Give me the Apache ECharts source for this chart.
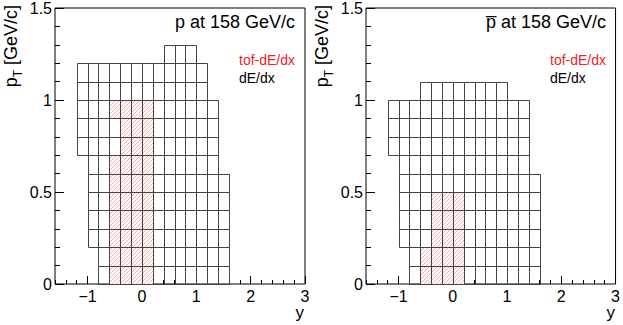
<!DOCTYPE html>
<html>
<head>
<meta charset="utf-8">
<script src="https://cdn.jsdelivr.net/npm/echarts@6/dist/echarts.min.js"></script>
<style>
  html, body { margin: 0; padding: 0; background: #fff; }
  #chart { width: 623px; height: 325px; }
</style>
</head>
<body>
<div id="chart"></div>
<script>
// acceptance bins: each row is [pT low edge, y from, y to], bins are 0.2 in y and 0.1 in pT
const binW = 0.2;
const binH = 0.1;

const pDedxRows = [
  [0.0, -0.8, 1.6], [0.1, -0.8, 1.6],
  [0.2, -1.0, 1.6], [0.3, -1.0, 1.6], [0.4, -1.0, 1.6], [0.5, -1.0, 1.6],
  [0.6, -1.0, 1.4],
  [0.7, -1.2, 1.4], [0.8, -1.2, 1.4], [0.9, -1.2, 1.4],
  [1.0, -1.2, 1.2], [1.1, -1.2, 1.2],
  [1.2, 0.4, 1.0]
];
const pTofRows = [
  [0.0, -0.6, 0.2], [0.1, -0.6, 0.2], [0.2, -0.6, 0.2], [0.3, -0.6, 0.2],
  [0.4, -0.6, 0.2], [0.5, -0.6, 0.2], [0.6, -0.6, 0.2],
  [0.7, -0.4, 0.2], [0.8, -0.4, 0.2],
  [0.9, -0.6, 0.2]
];
const pbarDedxRows = [
  [0.0, -0.8, 1.6], [0.1, -0.8, 1.6],
  [0.2, -1.0, 1.6], [0.3, -1.0, 1.6], [0.4, -1.0, 1.6], [0.5, -1.0, 1.6],
  [0.6, -1.0, 1.4],
  [0.7, -1.2, 1.4], [0.8, -1.2, 1.4], [0.9, -1.2, 1.4],
  [1.0, -0.6, 1.0]
];
const pbarTofRows = [
  [0.0, -0.6, 0.2], [0.1, -0.6, 0.2],
  [0.2, -0.4, 0.2], [0.3, -0.4, 0.2], [0.4, -0.4, 0.2]
];

const xMajor = [-1, 0, 1, 2, 3];
const yMajor = [0, 0.5, 1, 1.5];
const xRange = [-1.6, 3];
const yRange = [0, 1.5];

// split rows into single bins [x0, x1, y0, y1]
function toCells(rows) {
  const out = [];
  rows.forEach(function (r) {
    const n = Math.round((r[2] - r[1]) / binW);
    for (let i = 0; i < n; i++) {
      const x0 = +(r[1] + i * binW).toFixed(2);
      out.push([x0, +(x0 + binW).toFixed(2), r[0], +(r[0] + binH).toFixed(2)]);
    }
  });
  return out;
}

const hatchStep = 4;
const hatchColor = '#f5b6b6';
const hatchBack = '#fff8f8';

// outlined bin (dE/dx)
function boxItem(params, api) {
  const a = api.coord([api.value(0), api.value(3)]);
  const b = api.coord([api.value(1), api.value(2)]);
  const x0 = Math.round(a[0]) + 0.5, y0 = Math.round(a[1]) + 0.5;
  const x1 = Math.round(b[0]) + 0.5, y1 = Math.round(b[1]) + 0.5;
  return {
    type: 'rect',
    shape: { x: x0, y: y0, width: x1 - x0, height: y1 - y0 },
    style: { fill: 'none', stroke: '#444', lineWidth: 1 }
  };
}

// hatched bin (tof-dE/dx), ROOT style 3004 "/" lines
function hatchItem(params, api) {
  const a = api.coord([api.value(0), api.value(3)]);
  const b = api.coord([api.value(1), api.value(2)]);
  const x0 = Math.round(a[0]), yt = Math.round(a[1]);
  const x1 = Math.round(b[0]), yb = Math.round(b[1]);
  const w = x1 - x0, h = yb - yt;
  const pts = [];
  const kMin = Math.floor((x0 + yt) / hatchStep) * hatchStep;
  for (let K = kMin; K <= x1 + yb + hatchStep; K += hatchStep) {
    const c = K - x0 - yb;           // v = u - c in cell-local coords
    const u1 = Math.max(0, c), u2 = Math.min(w, h + c);
    if (u2 <= u1) continue;
    pts.push([x0 + u1, yb - (u1 - c), x0 + u2, yb - (u2 - c)]);
  }
  return {
    type: 'group',
    children: [
      { type: 'rect', shape: { x: x0, y: yt, width: w, height: h },
        style: { fill: hatchBack, stroke: 'none' } },
      { type: 'path',
        shape: { pathData: pts.map(function (s) {
          return 'M' + s[0] + ' ' + s[1] + 'L' + s[2] + ' ' + s[3]; }).join('') },
        style: { fill: 'none', stroke: hatchColor, lineWidth: 1 } }
    ]
  };
}

const font = 'Liberation Sans';
const chart = echarts.init(document.getElementById('chart'), null, { renderer: 'svg' });

const panels = [
  { left: 55, dedx: pDedxRows, tof: pTofRows },
  { left: 366, dedx: pbarDedxRows, tof: pbarTofRows }
];

const noLine = { show: false, onZero: false };
const grid = [], xAxis = [], yAxis = [], series = [];
panels.forEach(function (p, g) {
  grid.push({ left: p.left, top: 8, width: 250, height: 276, show: true,
    borderColor: '#000', borderWidth: 1, backgroundColor: 'transparent' });
  // minor ticks
  xAxis.push({ gridIndex: g, type: 'value', position: 'bottom', min: xRange[0], max: xRange[1], interval: 0.2,
    axisLine: noLine, splitLine: { show: false }, axisLabel: { show: false },
    axisTick: { inside: true, length: 4, lineStyle: { color: '#000' } } });
  // major ticks + labels
  xAxis.push({ gridIndex: g, type: 'value', position: 'bottom', min: xRange[0], max: xRange[1],
    axisLine: noLine, splitLine: { show: false },
    axisTick: { inside: true, length: 8, customValues: xMajor, lineStyle: { color: '#000' } },
    axisLabel: { customValues: xMajor, margin: 4, fontSize: 16, fontFamily: font, color: '#000',
      formatter: function (v) { return v < 0 ? '\u2212' + Math.abs(v) : String(v); } } });
  yAxis.push({ gridIndex: g, type: 'value', position: 'left', min: yRange[0], max: yRange[1], interval: 0.1,
    axisLine: noLine, splitLine: { show: false }, axisLabel: { show: false },
    axisTick: { inside: true, length: 5, lineStyle: { color: '#000' } } });
  yAxis.push({ gridIndex: g, type: 'value', position: 'left', min: yRange[0], max: yRange[1],
    axisLine: noLine, splitLine: { show: false },
    axisTick: { inside: true, length: 9, customValues: yMajor, lineStyle: { color: '#000' } },
    axisLabel: { customValues: yMajor, margin: 3, fontSize: 16, fontFamily: font, color: '#000',
      formatter: function (v) { return String(v); } } });

  series.push({ type: 'custom', name: 'tof-dE/dx', xAxisIndex: 2 * g, yAxisIndex: 2 * g,
    renderItem: hatchItem, data: toCells(p.tof), encode: { x: [0, 1], y: [2, 3] },
    itemStyle: { color: hatchColor, borderColor: hatchColor },
    silent: true, z: 1 });
  series.push({ type: 'custom', name: 'dE/dx', xAxisIndex: 2 * g, yAxisIndex: 2 * g,
    renderItem: boxItem, data: toCells(p.dedx), encode: { x: [0, 1], y: [2, 3] },
    itemStyle: { color: 'none', borderColor: '#444' },
    silent: true, z: 2 });
});

const graphic = [];
const titles = ['p at 158 GeV/c', 'p\u0305 at 158 GeV/c'];
panels.forEach(function (p, g) {
  const L = p.left;
  graphic.push({ type: 'text', x: L + 240, y: 22, style: { text: titles[g], align: 'right',
    verticalAlign: 'middle', fontSize: 18, fontFamily: font, fill: '#000' } });
  graphic.push({ type: 'text', x: L + 184, y: 60, style: { text: 'tof-dE/dx', align: 'left',
    verticalAlign: 'middle', fontSize: 14, fontFamily: font, fill: '#e8252a' } });
  graphic.push({ type: 'text', x: L + 184, y: 78, style: { text: 'dE/dx', align: 'left',
    verticalAlign: 'middle', fontSize: 14, fontFamily: font, fill: '#000' } });
  graphic.push({ type: 'text', x: L + 249, y: 312, style: { text: 'y', align: 'right',
    verticalAlign: 'middle', fontSize: 17, fontFamily: font, fill: '#000' } });
  graphic.push({ type: 'text', x: L - 44, y: 5, rotation: Math.PI / 2,
    style: { text: '{a|p}{s|T}{a| [GeV/c]}', align: 'right', verticalAlign: 'middle',
      fontFamily: font, fill: '#000',
      rich: {
        a: { fontSize: 18, fontFamily: font, lineHeight: 26, verticalAlign: 'middle' },
        s: { fontSize: 12, fontFamily: font, lineHeight: 26, verticalAlign: 'bottom' }
      } } });
});

chart.setOption({
  animation: false,
  backgroundColor: '#fff',
  grid: grid,
  xAxis: xAxis,
  yAxis: yAxis,
  series: series,
  graphic: graphic
});
</script>
</body>
</html>
